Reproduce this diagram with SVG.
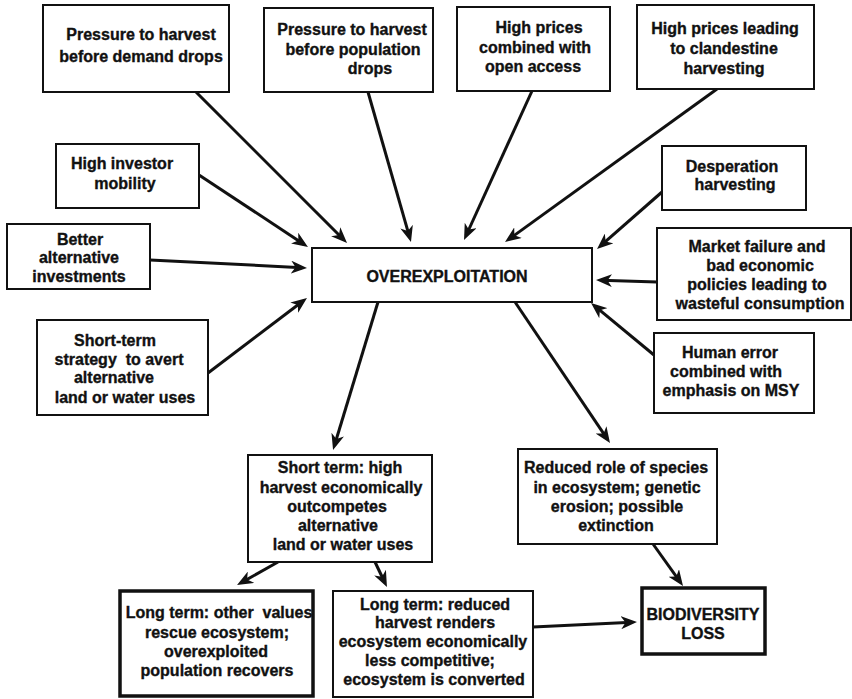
<svg xmlns="http://www.w3.org/2000/svg" width="852" height="699" viewBox="0 0 852 699">
  <defs>
    <style>
      .box { fill: #ffffff; stroke: #111111; stroke-width: 2; }
      .thick { stroke-width: 3.5; }
      .lbl { font-family: "Liberation Sans", Arial, sans-serif; font-weight: bold; font-size: 16px; fill: #111111; stroke: #111111; stroke-width: 0.35; text-anchor: middle; }
      .link { fill: none; stroke: #111111; stroke-width: 3; marker-end: url(#head); }
    </style>
    <marker id="head" viewBox="0 0 16 13" markerUnits="userSpaceOnUse" markerWidth="16" markerHeight="13" refX="11" refY="6.5" orient="auto">
      <path d="M0,0 L16,6.5 L0,13 L4.5,6.5 z" fill="#111111"/>
    </marker>
  </defs>
  <rect width="852" height="699" fill="#ffffff"/>

  <g id="connectors">
    <line class="link" x1="196" y1="92" x2="343.5" y2="239.5"/>
    <line class="link" x1="368" y1="92" x2="409.6" y2="237.2"/>
    <line class="link" x1="199" y1="175" x2="303.8" y2="244.2"/>
    <line class="link" x1="150" y1="260" x2="302" y2="267.7"/>
    <line class="link" x1="208" y1="373" x2="303" y2="301"/>
    <line class="link" x1="532" y1="91" x2="466.1" y2="235.5"/>
    <line class="link" x1="717" y1="89" x2="509.1" y2="239.1"/>
    <line class="link" x1="662" y1="192" x2="600.8" y2="245.7"/>
    <line class="link" x1="657" y1="282" x2="601" y2="280.2"/>
    <line class="link" x1="654" y1="355" x2="594.9" y2="306.2"/>
    <line class="link" x1="378" y1="302" x2="334.5" y2="445.2"/>
    <line class="link" x1="515" y1="302" x2="607.2" y2="438.9"/>
    <line class="link" x1="278" y1="562" x2="241.4" y2="582.6"/>
    <line class="link" x1="375" y1="562" x2="384.8" y2="582.5"/>
    <line class="link" x1="653" y1="544" x2="680.1" y2="581.9"/>
    <line class="link" x1="533" y1="627" x2="632" y2="622.2"/>
  </g>

  <g id="demand-drops">
    <rect class="box" x="43" y="5" width="186" height="87"/>
    <text class="lbl"><tspan x="141" y="40">Pressure to harvest</tspan><tspan x="141" y="62">before demand drops</tspan></text>
  </g>

  <g id="population-drops">
    <rect class="box" x="264" y="8" width="169" height="84"/>
    <text class="lbl"><tspan x="352" y="35">Pressure to harvest</tspan><tspan x="353" y="55">before population</tspan><tspan x="370" y="74">drops</tspan></text>
  </g>

  <g id="open-access">
    <rect class="box" x="457" y="7" width="153" height="84"/>
    <text class="lbl"><tspan x="539" y="33">High prices</tspan><tspan x="535" y="53">combined with</tspan><tspan x="533" y="72">open access</tspan></text>
  </g>

  <g id="clandestine">
    <rect class="box" x="637" y="5" width="177" height="84"/>
    <text class="lbl"><tspan x="725" y="34">High prices leading</tspan><tspan x="724" y="54">to clandestine</tspan><tspan x="724" y="74">harvesting</tspan></text>
  </g>

  <g id="investor-mobility">
    <rect class="box" x="56" y="144" width="143" height="64"/>
    <text class="lbl"><tspan x="122" y="169">High investor</tspan><tspan x="125" y="189">mobility</tspan></text>
  </g>

  <g id="desperation">
    <rect class="box" x="662" y="146" width="144" height="64"/>
    <text class="lbl"><tspan x="732" y="172">Desperation</tspan><tspan x="735" y="190">harvesting</tspan></text>
  </g>

  <g id="better-investments">
    <rect class="box" x="7" y="224" width="143" height="65"/>
    <text class="lbl"><tspan x="80" y="245">Better</tspan><tspan x="79" y="263">alternative</tspan><tspan x="79" y="282">investments</tspan></text>
  </g>

  <g id="overexploitation">
    <rect class="box" x="312" y="248" width="280" height="54"/>
    <text class="lbl"><tspan x="447" y="282">OVEREXPLOITATION</tspan></text>
  </g>

  <g id="market-failure">
    <rect class="box" x="657" y="228" width="194" height="92"/>
    <text class="lbl"><tspan x="757" y="252">Market failure and</tspan><tspan x="760" y="271">bad economic</tspan><tspan x="757" y="290">policies leading to</tspan><tspan x="760" y="309">wasteful consumption</tspan></text>
  </g>

  <g id="short-term-strategy">
    <rect class="box" x="37" y="320" width="171" height="95"/>
    <text class="lbl"><tspan x="115" y="346">Short-term</tspan><tspan x="119" y="365" xml:space="preserve">strategy  to avert</tspan><tspan x="114" y="383">alternative</tspan><tspan x="125" y="403">land or water uses</tspan></text>
  </g>

  <g id="human-error">
    <rect class="box" x="654" y="333" width="160" height="80"/>
    <text class="lbl"><tspan x="730" y="358">Human error</tspan><tspan x="726" y="377">combined with</tspan><tspan x="731" y="396">emphasis on MSY</tspan></text>
  </g>

  <g id="short-term-harvest">
    <rect class="box" x="248" y="455" width="184" height="107"/>
    <text class="lbl"><tspan x="340" y="473">Short term: high</tspan><tspan x="341" y="493">harvest economically</tspan><tspan x="337" y="512">outcompetes</tspan><tspan x="338" y="531">alternative</tspan><tspan x="343" y="550">land or water uses</tspan></text>
  </g>

  <g id="reduced-role">
    <rect class="box" x="518" y="449" width="199" height="95"/>
    <text class="lbl"><tspan x="616" y="473">Reduced role of species</tspan><tspan x="617" y="493">in ecosystem; genetic</tspan><tspan x="617" y="512">erosion; possible</tspan><tspan x="616" y="531">extinction</tspan></text>
  </g>

  <g id="population-recovers">
    <rect class="box thick" x="120" y="591" width="193" height="105"/>
    <text class="lbl"><tspan x="219" y="618" xml:space="preserve">Long term: other  values</tspan><tspan x="217" y="638">rescue ecosystem;</tspan><tspan x="216" y="657">overexploited</tspan><tspan x="217" y="676">population recovers</tspan></text>
  </g>

  <g id="ecosystem-converted">
    <rect class="box" x="333" y="591" width="200" height="106"/>
    <text class="lbl"><tspan x="435" y="610">Long term: reduced</tspan><tspan x="435" y="628">harvest renders</tspan><tspan x="433" y="647">ecosystem economically</tspan><tspan x="430" y="666">less competitive;</tspan><tspan x="434" y="685">ecosystem is converted</tspan></text>
  </g>

  <g id="biodiversity-loss">
    <rect class="box thick" x="642" y="588" width="123" height="66"/>
    <text class="lbl"><tspan x="703" y="620">BIODIVERSITY</tspan><tspan x="703" y="639">LOSS</tspan></text>
  </g>
</svg>
